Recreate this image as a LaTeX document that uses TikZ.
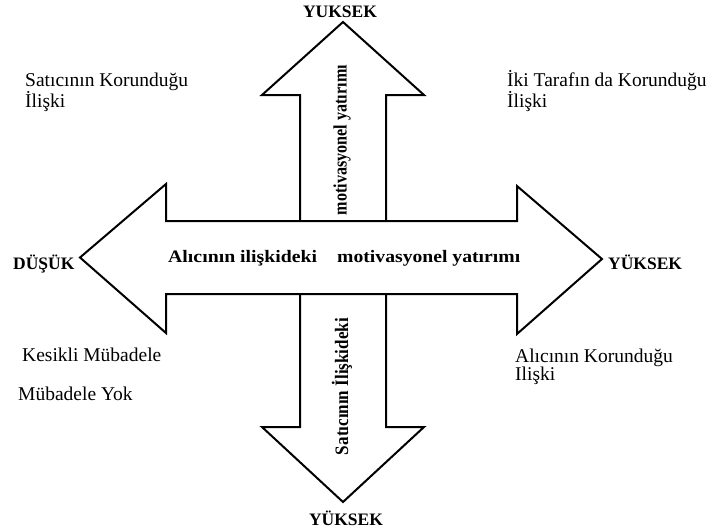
\documentclass[tikz,border=0pt]{standalone}
\usepackage{graphicx}
\usepackage{fontspec}
\setmainfont{Liberation Serif}
% width-fitted bold text for the arrow shafts
\newcommand{\fitbold}[2]{\resizebox{#1}{\height}{#2}}
\begin{document}
\begin{tikzpicture}[x=1pt,y=-1pt,
  arrowbody/.style={draw=black, line width=2pt, fill=white, line join=miter},
  plain/.style={font=\fontsize{19.5}{18}\selectfont, inner sep=0pt, align=left, anchor=base west},
  endlabel/.style={font=\bfseries\fontsize{17.5}{18}\selectfont, inner sep=0pt},
  axistext/.style={font=\bfseries\fontsize{17.5}{18}\selectfont, inner sep=0pt, anchor=base west},
  stemtext/.style={font=\bfseries\fontsize{19}{18}\selectfont, inner sep=0pt, rotate=90}]
\useasboundingbox (0,0) rectangle (713,531);
% vertical double arrow (seller side)
\draw[arrowbody] (343,22) -- (424,95) -- (386,95) -- (386,427) -- (424,427)
  -- (343,502) -- (262,427) -- (300,427) -- (300,95) -- (262,95) -- cycle;
% horizontal double arrow (buyer side), drawn over the vertical one
\draw[arrowbody] (80,257.5) -- (166,184) -- (166,221) -- (517,221) -- (517,186)
  -- (602,259) -- (517,334) -- (517,294) -- (166,294) -- (166,333) -- cycle;
% axis texts
\node[axistext] (hleft) at (168,262) {\fitbold{149pt}{Alıcının ilişkideki}};
\node[axistext] (hright) at (337,262) {\fitbold{183pt}{motivasyonel yatırımı}};
\node[stemtext] (vtop) at (342,140) {\fitbold{150pt}{motivasyonel yatırımı}};
\node[stemtext] (vbot) at (342,386.5) {\fitbold{137pt}{Satıcının İlişkideki}};
% arrow end labels
\node[endlabel, anchor=base] (endtop) at (340,17.3) {YUKSEK};
\node[endlabel, anchor=base] (endbot) at (346,525) {YÜKSEK};
\node[endlabel, anchor=base west] (endleft) at (13,269) {DÜŞÜK};
\node[endlabel, anchor=base west] (endright) at (608,269) {YÜKSEK};
% quadrant texts (anchored on the baseline of their last line)
\node[plain] (qtl) at (25,107.3) {Satıcının Korunduğu\\İlişki};
\node[plain] (qtr) at (507,107.3) {İki Tarafın da Korunduğu\\İlişki};
\node[plain] (qbl1) at (22,361.7) {Kesikli Mübadele};
\node[plain] (qbl2) at (18,400.7) {Mübadele Yok};
\node[plain] (qbr) at (515,380.7) {Alıcının Korunduğu\\Ilişki};
\end{tikzpicture}
\end{document}
